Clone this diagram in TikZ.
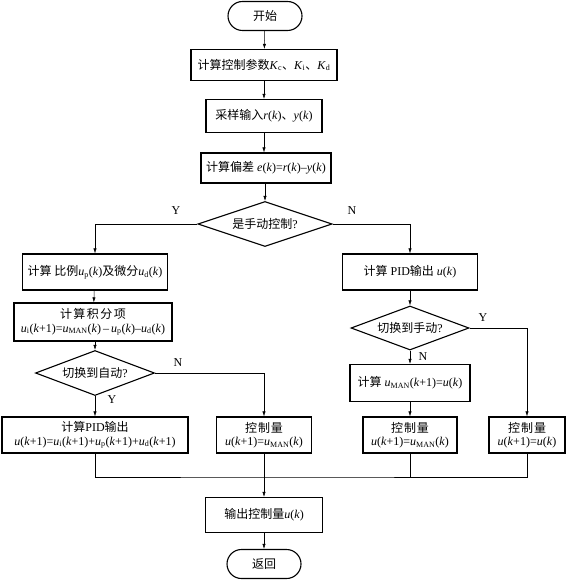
\documentclass[tikz,border=0pt]{standalone}
\usepackage{fontspec}
\setmainfont{Liberation Serif}
\newfontfamily\zhfont{Noto Sans CJK SC}
\newcommand\zh[1]{{\zhfont #1}}
\newcommand\vi[1]{\textit{#1}}
\newcommand\sub[1]{\textsubscript{#1}}
\usetikzlibrary{shapes.geometric,shapes.misc,arrows.meta}
\begin{document}
\begin{tikzpicture}[x=1pt,y=-1pt,
  every node/.style={font=\fontsize{12}{14.5}\selectfont},
  box/.style={draw,line width=1.1pt,inner sep=0pt,align=center},
  term/.style={draw,line width=1.1pt,rounded rectangle,inner sep=0pt,minimum width=74pt,minimum height=29pt},
  dec/.style={draw,line width=1.1pt,diamond,inner sep=0pt,aspect=2.9},
  lbl/.style={inner sep=0pt},
  conn/.style={line width=0.5pt},
  arr/.style={conn,-{Latex[length=5pt,width=3.2pt]}}]
\useasboundingbox (0,0) rectangle (566,580);
\node[term] (start) at (265,16) {\zh{开始}};
\node[box,minimum width=146pt,minimum height=31pt] (b1) at (264,65)
  {\zh{计算控制参数}\vi{K}\sub{c}\zh{、}\vi{K}\sub{i}\zh{、}\vi{K}\sub{d}};
\node[box,minimum width=116pt,minimum height=33pt] (b2) at (264,116)
  {\zh{采样输入}\vi{r}(\vi{k})\zh{、}\vi{y}(\vi{k})};
\node[box,minimum width=130pt,minimum height=30pt] (b3) at (266,168)
  {\zh{计算偏差} \vi{e}(\vi{k})=\vi{r}(\vi{k})–\vi{y}(\vi{k})};
\node[dec,minimum width=134pt,minimum height=45pt] (d1) at (265,224) {\zh{是手动控制}?};
% left branch
\node[box,minimum width=145pt,minimum height=36pt] (l1) at (95,272)
  {\zh{计算 比例}\vi{u}\sub{p}(\vi{k})\zh{及微分}\vi{u}\sub{d}(\vi{k})};
\node[box,minimum width=158pt,minimum height=38pt] (l2) at (93,322)
  {\zh{计\kern1.5pt 算\kern1.5pt 积\kern1.5pt 分\kern1.5pt 项}\\[-1pt]\vi{u}\sub{i}(\vi{k}+1)=\vi{u}\sub{MAN}(\vi{k})\,–\,\vi{u}\sub{p}(\vi{k})–\vi{u}\sub{d}(\vi{k})};
\node[dec,minimum width=119pt,minimum height=45pt] (d2) at (95,373) {\zh{切换到自动}?};
\node[box,minimum width=186pt,minimum height=36pt] (l3) at (95,435)
  {\zh{计算}PID\zh{输出}\\[-1pt]\vi{u}(\vi{k}+1)=\vi{u}\sub{i}(\vi{k}+1)+\vi{u}\sub{p}(\vi{k}+1)+\vi{u}\sub{d}(\vi{k}+1)};
\node[box,minimum width=95pt,minimum height=36pt] (l4) at (264,435)
  {\zh{控\kern1pt 制\kern1pt 量}\\[-1pt]\vi{u}(\vi{k}+1)=\vi{u}\sub{MAN}(\vi{k})};
% right branch
\node[box,minimum width=135pt,minimum height=36pt] (r1) at (410,272)
  {\zh{计算} PID\zh{输出} \vi{u}(\vi{k})};
\node[dec,minimum width=118pt,minimum height=44pt] (d3) at (410,328) {\zh{切换到手动}?};
\node[box,minimum width=120pt,minimum height=37pt] (r2) at (410,383)
  {\zh{计算} \vi{u}\sub{MAN}(\vi{k}+1)=\vi{u}(\vi{k})};
\node[box,minimum width=94pt,minimum height=36pt] (r3) at (410,435)
  {\zh{控\kern1pt 制\kern1pt 量}\\[-1pt]\vi{u}(\vi{k}+1)=\vi{u}\sub{MAN}(\vi{k})};
\node[box,minimum width=76pt,minimum height=36pt] (r4) at (527,435)
  {\zh{控\kern1pt 制\kern1pt 量}\\[-1pt]\vi{u}(\vi{k}+1)=\vi{u}(\vi{k})};
% bottom
\node[box,minimum width=117pt,minimum height=35pt] (out) at (264,515)
  {\zh{输出控制量}\vi{u}(\vi{k})};
\node[term] (ret) at (264,564) {\zh{返回}};
\coordinate (m) at (264,477);
% labels
\node[lbl] (ly1) at (176,211) {Y};
\node[lbl] (ln1) at (352,211) {N};
\node[lbl] (ln2) at (178,363) {N};
\node[lbl] (ly2) at (112,400) {Y};
\node[lbl] (ly3) at (483,318) {Y};
\node[lbl] (ln3) at (423,357) {N};
% connectors
\draw[arr] (start) -- (b1);
\draw[arr] (b1) -- (b2);
\draw[arr] (b2.south) -- (b2.south |- b3.north);
\draw[arr] (b3.south -| d1.north) -- (d1.north);
\draw[arr] (d1.west) -| (l1.north);
\draw[arr] (d1.east) -| (r1.north);
\draw[arr] (l1) -- (l2);
\draw[arr] (l2.south -| d2.north) -- (d2.north);
\draw[arr] (d2.south) -- (l3.north -| d2.south);
\draw[arr] (d2.east) -| (l4.north);
\draw[arr] (r1) -- (d3);
\draw[arr] (d3) -- (r2);
\draw[arr] (r2) -- (r3);
\draw[arr] (d3.east) -| (r4.north);
\draw[conn] (l3.south) |- (m) -| (r4.south);
\draw[conn] (r3.south) -- (r3.south |- m);
\draw[arr] (l4.south) -- (out.north);
\draw[arr] (out) -- (ret);
\end{tikzpicture}
\end{document}
